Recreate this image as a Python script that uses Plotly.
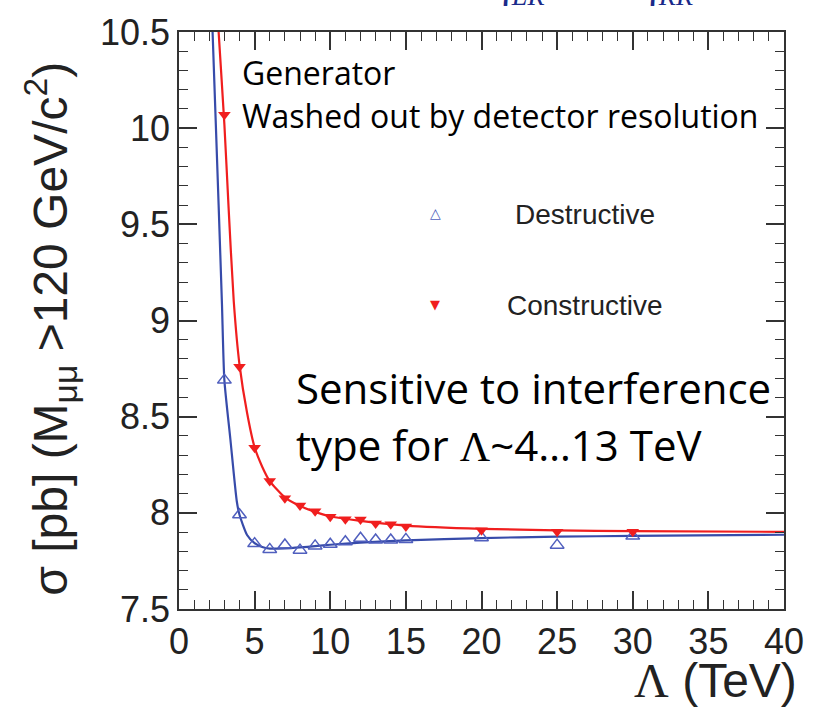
import plotly.graph_objects as go

# ---------------- data ----------------
lam_points = [3, 4, 5, 6, 7, 8, 9, 10, 11, 12, 13, 14, 15, 20, 25, 30]
destructive = [8.69, 7.99, 7.84, 7.81, 7.833, 7.806, 7.828, 7.837, 7.85, 7.868,
               7.859, 7.859, 7.862, 7.871, 7.832, 7.879]
constructive = [10.07, 8.76, 8.338, 8.165, 8.076, 8.038, 8.008, 7.98, 7.967, 7.965,
                7.945, 7.94, 7.929, 7.909, 7.902, 7.902]

# fitted curves
lam_fit_d = [2.15, 2.22, 2.62, 2.84, 3.0, 3.4, 3.82, 4.0, 4.5, 5.0, 5.5, 6, 7, 8, 9,
             10, 12, 15, 20, 25, 30, 40]
fit_d = [10.65, 10.5, 9.6, 9.085, 8.69, 8.38, 8.06, 7.99, 7.885, 7.842, 7.822, 7.814,
         7.815, 7.82, 7.827, 7.834, 7.845, 7.857, 7.869, 7.876, 7.88, 7.886]
lam_fit_c = [2.55, 2.62, 3.0, 3.27, 3.62, 4.0, 4.5, 5, 5.5, 6, 7, 8, 9, 10, 12, 15,
             20, 25, 30, 40]
fit_c = [10.6, 10.5, 10.02, 9.6, 9.1, 8.77, 8.52, 8.34, 8.24, 8.165, 8.08, 8.035,
         8.005, 7.982, 7.958, 7.934, 7.917, 7.909, 7.905, 7.901]

x_range = [0, 40]
y_range = [7.5, 10.5]

RED = "rgb(240,30,30)"
BLUE_LINE = "rgb(55,75,170)"
BLUE_MK = "rgb(80,95,190)"
AX = "#333333"
TXT = "#222222"

fig = go.Figure()
fig.add_trace(go.Scatter(x=lam_fit_d, y=fit_d, mode="lines",
                         line=dict(color=BLUE_LINE, width=2.2, shape="spline", smoothing=0.6),
                         showlegend=False, hoverinfo="skip"))
fig.add_trace(go.Scatter(x=lam_fit_c, y=fit_c, mode="lines",
                         line=dict(color=RED, width=2.2, shape="spline", smoothing=0.6),
                         showlegend=False, hoverinfo="skip"))
fig.add_trace(go.Scatter(x=lam_points, y=destructive, mode="markers",
                         marker=dict(symbol="triangle-up-open", size=12, color=BLUE_MK,
                                     line=dict(width=1.5, color=BLUE_MK)),
                         name="Destructive", showlegend=False))
fig.add_trace(go.Scatter(x=lam_points, y=constructive, mode="markers",
                         marker=dict(symbol="triangle-down", size=11, color=RED,
                                     line=dict(width=0)),
                         name="Constructive", showlegend=False))

axis_common = dict(showgrid=False, zeroline=False, showline=True, linecolor=AX,
                   linewidth=1.6, mirror="ticks", ticks="inside", ticklen=18,
                   tickwidth=1.6, tickcolor=AX,
                   tickfont=dict(family="Liberation Sans, Arial", size=36, color=TXT))

fig.update_xaxes(range=x_range, dtick=5, tick0=0,
                 minor=dict(dtick=1, ticks="inside", ticklen=9, tickwidth=1.4, tickcolor=AX),
                 **axis_common)
fig.update_yaxes(range=y_range, dtick=0.5, tick0=7.5,
                 minor=dict(dtick=0.1, ticks="inside", ticklen=9, tickwidth=1.4, tickcolor=AX),
                 **axis_common)

L, R, T, B = 179, 28, 24, 102
W, H = 816, 711
pw, ph = W - L - R, H - T - B


def px(x):
    return (x - L) / pw


def py(y):
    return (H - B - y) / ph


ann = []
# axis titles
ann.append(dict(text="σ [pb] (M<sub>μμ</sub> >120 GeV/c<sup>2</sup>)", textangle=-90,
                x=px(50), y=py(325), xref="paper", yref="paper", showarrow=False,
                xanchor="center", yanchor="middle",
                font=dict(family="Liberation Sans, Arial", size=48, color=TXT)))
ann.append(dict(text="<span style='font-family:Liberation Serif'>Λ</span> (TeV)",
                x=px(803), y=py(681), xref="paper", yref="paper", showarrow=False,
                xanchor="right", yanchor="middle",
                font=dict(family="Liberation Sans, Arial", size=48, color=TXT)))
# legend
ann.append(dict(text="△", x=px(437), y=py(208), xref="paper", yref="paper", showarrow=False,
                xanchor="center", yanchor="middle",
                font=dict(family="DejaVu Sans", size=14, color=BLUE_MK)))
ann.append(dict(text="▼", x=px(437), y=py(300), xref="paper", yref="paper", showarrow=False,
                xanchor="center", yanchor="middle",
                font=dict(family="DejaVu Sans", size=13, color=RED)))
ann.append(dict(text="Destructive", x=px(588), y=py(209), xref="paper", yref="paper",
                showarrow=False, xanchor="center", yanchor="middle",
                font=dict(family="Liberation Sans, Arial", size=28, color=TXT)))
ann.append(dict(text="Constructive", x=px(588), y=py(301), xref="paper", yref="paper",
                showarrow=False, xanchor="center", yanchor="middle",
                font=dict(family="Liberation Sans, Arial", size=28, color=TXT)))
# slide text
ann.append(dict(text="Generator", x=px(240), y=py(65), xref="paper", yref="paper",
                showarrow=False, xanchor="left", yanchor="middle",
                font=dict(family="Open Sans", size=32, color="black")))
ann.append(dict(text="Washed out by detector resolution", x=px(240), y=py(109),
                xref="paper", yref="paper", showarrow=False, xanchor="left",
                yanchor="middle", font=dict(family="Open Sans", size=32, color="black")))
ann.append(dict(text="Sensitive to interference", x=px(295), y=py(384), xref="paper",
                yref="paper", showarrow=False, xanchor="left", yanchor="middle",
                font=dict(family="Open Sans", size=42, color="black")))
ann.append(dict(text="type for <span style='font-family:Liberation Serif'>Λ</span>~4…13 TeV",
                x=px(295), y=py(442), xref="paper", yref="paper", showarrow=False,
                xanchor="left", yanchor="middle",
                font=dict(family="Open Sans", size=42, color="black")))
# cut-off header text at the very top
ann.append(dict(text="<i>η<sub>LR</sub></i>", x=px(492), y=py(5), xref="paper", yref="paper",
                showarrow=False, xanchor="left", yanchor="bottom",
                font=dict(family="Liberation Serif", size=40, color="#1a2a8a")))
ann.append(dict(text="<i>η<sub>RR</sub></i>", x=px(640), y=py(5), xref="paper", yref="paper",
                showarrow=False, xanchor="left", yanchor="bottom",
                font=dict(family="Liberation Serif", size=40, color="#1a2a8a")))

fig.update_layout(width=W, height=H, margin=dict(l=L, r=R, t=T, b=B, pad=0),
                  plot_bgcolor="white", paper_bgcolor="white", showlegend=False,
                  annotations=ann)

fig.write_html("out.html")
